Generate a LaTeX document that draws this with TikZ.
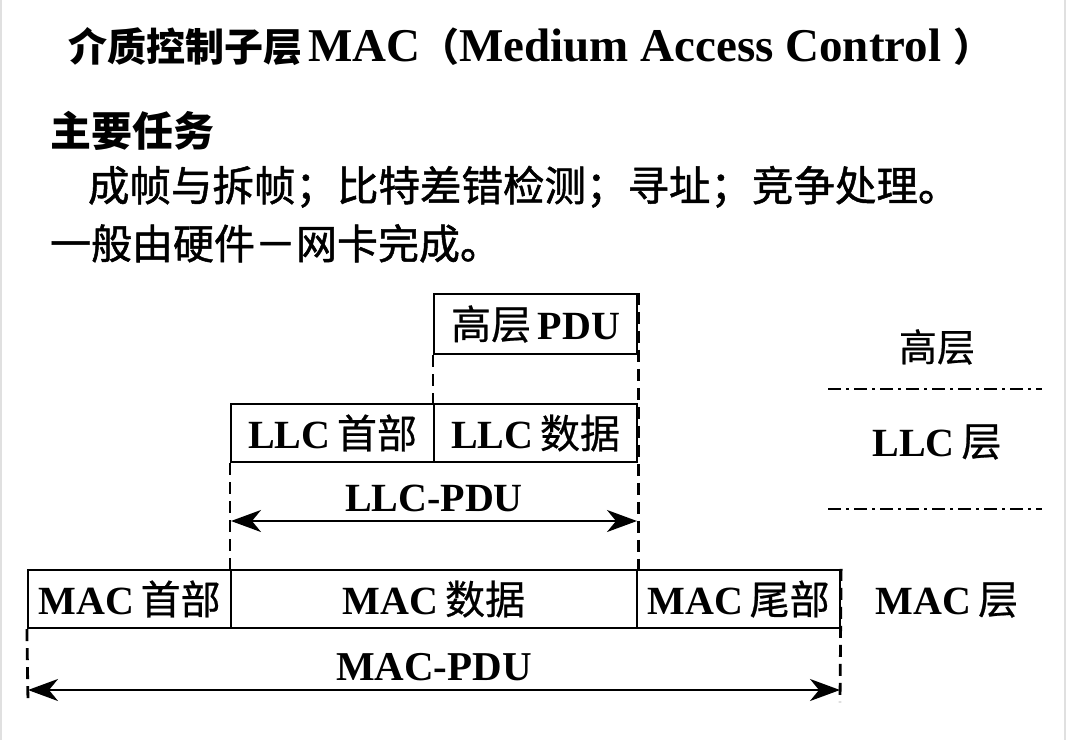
\documentclass[tikz,border=0pt]{standalone}
\usepackage{fontspec}
\setmainfont{Liberation Serif}
\newfontfamily\cjk{Noto Sans CJK SC}
\newfontfamily\cjkm[FakeBold=1.2]{Noto Sans CJK SC}
\newfontfamily\cjkb[FakeBold=0.6]{Noto Sans CJK SC}
\usetikzlibrary{arrows.meta}
\newcommand\fsz[1]{\fontsize{#1}{#1}\selectfont}
\tikzset{
  txt/.style={inner sep=0pt, outer sep=0pt},
  pbox/.style={draw, line width=2.2pt, inner sep=0pt, minimum height=58pt, font=\fsz{40}\bfseries},
  vdash/.style={line width=2.8pt, dash pattern=on 12pt off 7pt},
  ddot/.style={line width=2.8pt, dash pattern=on 13pt off 5pt on 3pt off 5pt},
  span/.style={line width=2pt, {Stealth[length=30pt,width=22pt,inset=9pt]}-{Stealth[length=30pt,width=22pt,inset=9pt]}},
  edge/.style={line width=2pt, draw=black!12}
}
\begin{document}
\begin{tikzpicture}[x=1pt,y=-1pt]
\useasboundingbox (0,0) rectangle (1067,740);
\fill[white] (0,0) rectangle (1067,740);
\draw[edge] (1,0) -- (1,740);
\draw[edge] (1065,0) -- (1065,740);

% title and text
\node[txt, anchor=base west] (title) at (68,61)
  {{\cjk\bfseries\fsz{39}介质控制子层}\hspace{6pt}{\bfseries\fsz{47}MAC}{\cjk\bfseries\fsz{39}（}{\bfseries\fsz{47}Medium Access Control }{\cjk\bfseries\fsz{39}）}};
\node[txt, anchor=base west, font=\cjk\bfseries\fsz{41}] (t1) at (50,146) {主要任务};
\node[txt, anchor=base west, font=\cjkm\fsz{41.5}] (t2) at (88,201) {成帧与拆帧；比特差错检测；寻址；竞争处理。};
\node[txt, anchor=base west, font=\cjkm\fsz{41}] (t3) at (50,259) {一般由硬件－网卡完成。};

% boxes
\node[pbox, minimum width=203pt, minimum height=60pt] (hpdu) at (535.5,324) {{\cjkb\mdseries 高层}\,PDU};
\node[pbox, minimum width=203pt] (llch) at (332.5,433) {LLC\,{\cjkb\mdseries 首部}};
\node[pbox, minimum width=203pt] (llcd) at (535.5,433) {LLC\,{\cjkb\mdseries 数据}};
\node[pbox, minimum width=203pt] (mach) at (129.5,599) {MAC\,{\cjkb\mdseries 首部}};
\node[pbox, minimum width=406pt] (macd) at (434,599) {MAC\,{\cjkb\mdseries 数据}};
\node[pbox, minimum width=203pt] (mact) at (738.5,599) {MAC\,{\cjkb\mdseries 尾部}};

% dashed guides
\coordinate (mbl) at (28,702);
\coordinate (mbr) at (840,702);
\draw[vdash] (hpdu.north east) -- (macd.north east);
\draw[vdash] (hpdu.south west) -- (llcd.north west);
\draw[vdash] (llch.south west) -- (macd.north west);
\draw[vdash] (mach.south west) -- (mbl);
\draw[vdash] (mact.north east) -- (mbr);

% spans
\coordinate (la) at (231,521);
\coordinate (lb) at (637,521);
\draw[span] (la) -- (lb);
\node[txt, font=\bfseries\fsz{40}] (llcpdu) at (434,498) {LLC-PDU};
\coordinate (ma) at (28,690);
\coordinate (mb) at (840,690);
\draw[span] (ma) -- (mb);
\node[txt, font=\bfseries\fsz{41}] (macpdu) at (434,667) {MAC-PDU};

% layer labels
\node[txt, font=\cjkb\fsz{38}] (lh) at (937,347) {高层};
\coordinate (d1a) at (828,389);
\coordinate (d1b) at (1042,389);
\draw[ddot] (d1a) -- (d1b);
\node[txt, font=\bfseries\fsz{40}] (ll) at (937,442) {LLC\,{\cjkb\mdseries 层}};
\coordinate (d2a) at (828,509);
\coordinate (d2b) at (1042,509);
\draw[ddot] (d2a) -- (d2b);
\node[txt, font=\bfseries\fsz{40}] (lm) at (947,600) {MAC\,{\cjkb\mdseries 层}};
\end{tikzpicture}
\end{document}
